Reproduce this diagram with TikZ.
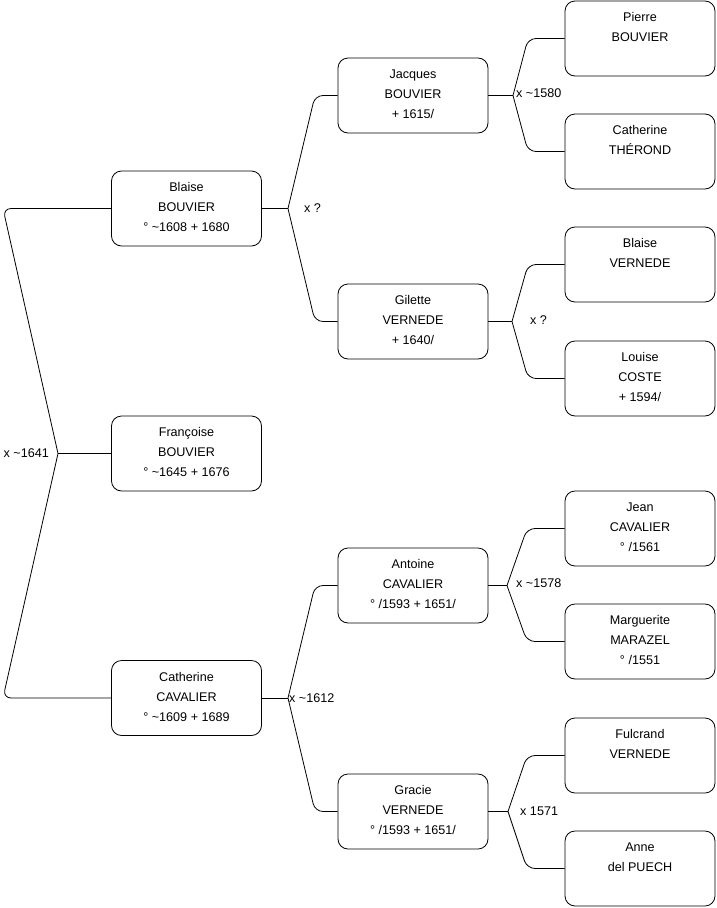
\documentclass[tikz,border=0pt]{standalone}
\usepackage{fontspec}
\setmainfont{Liberation Sans}
\usetikzlibrary{calc}
\begin{document}
\begin{tikzpicture}[x=1pt,y=-1pt,
  person/.style={draw=black, line width=0.8pt, rounded corners=10pt, minimum width=150pt, minimum height=75pt, align=center, font=\fontsize{12.6}{20}\selectfont, inner sep=0pt},
  link/.style={draw=black, line width=0.8pt},
  fork/.style={link, rounded corners=8pt},
  lbl/.style={font=\fontsize{12.6}{14}\selectfont, inner sep=0pt}]
\useasboundingbox (0,0) rectangle (716,908);
% level 1
\node[person] (blaise) at (186.5,208.5) {Blaise\\BOUVIER\\° \textasciitilde1608 + 1680\\[-17pt]\mbox{}};
\node[person] (francoise) at (186.5,453.5) {Françoise\\BOUVIER\\° \textasciitilde1645 + 1676\\[-17pt]\mbox{}};
\node[person] (catherine) at (186.5,698) {Catherine\\CAVALIER\\° \textasciitilde1609 + 1689\\[-17pt]\mbox{}};
% level 2
\node[person] (jacques) at (413,95.5) {Jacques\\BOUVIER\\+ 1615/\\[-17pt]\mbox{}};
\node[person] (gilette) at (413,321.5) {Gilette\\VERNEDE\\+ 1640/\\[-17pt]\mbox{}};
\node[person] (antoine) at (413,585.5) {Antoine\\CAVALIER\\° /1593 + 1651/\\[-17pt]\mbox{}};
\node[person] (gracie) at (413,811.5) {Gracie\\VERNEDE\\° /1593 + 1651/\\[-17pt]\mbox{}};
% level 3
\node[person] (pierre) at (640,38.5) {Pierre\\BOUVIER\\\mbox{}\\[-17pt]\mbox{}};
\node[person] (catherinet) at (640,151.5) {Catherine\\THÉROND\\\mbox{}\\[-17pt]\mbox{}};
\node[person] (blaisev) at (640,264.5) {Blaise\\VERNEDE\\\mbox{}\\[-17pt]\mbox{}};
\node[person] (louise) at (640,378.5) {Louise\\COSTE\\+ 1594/\\[-17pt]\mbox{}};
\node[person] (jean) at (640,528.5) {Jean\\CAVALIER\\° /1561\\[-17pt]\mbox{}};
\node[person] (marguerite) at (640,641.5) {Marguerite\\MARAZEL\\° /1551\\[-17pt]\mbox{}};
\node[person] (fulcrand) at (640,755.5) {Fulcrand\\VERNEDE\\\mbox{}\\[-17pt]\mbox{}};
\node[person] (anne) at (640,868.5) {Anne\\del PUECH\\\mbox{}\\[-17pt]\mbox{}};
% junctions
\coordinate (m0) at (58,453.5);
\coordinate (m1) at (288,208.5);
\coordinate (m2) at (288,698);
\coordinate (m3) at (513,95.5);
\coordinate (m4) at (512,321.5);
\coordinate (m5) at (507,585.5);
\coordinate (m6) at (508,811.5);
% level 0 fork
\draw[link] (francoise.west) -- (m0);
\draw[fork] (m0) -- ($(m0 |- blaise.west)+(-55,0)$) -- (blaise.west);
\draw[fork] (m0) -- ($(m0 |- catherine.west)+(-55,0)$) -- (catherine.west);
% level 1 forks
\draw[link] (blaise.east) -- (m1);
\draw[fork] (m1) -- ($(m1 |- jacques.west)+(27,0)$) -- (jacques.west);
\draw[fork] (m1) -- ($(m1 |- gilette.west)+(27,0)$) -- (gilette.west);
\draw[link] (catherine.east) -- (m2);
\draw[fork] (m2) -- ($(m2 |- antoine.west)+(27,0)$) -- (antoine.west);
\draw[fork] (m2) -- ($(m2 |- gracie.west)+(27,0)$) -- (gracie.west);
% level 2 forks
\draw[link] (jacques.east) -- (m3);
\draw[fork] (m3) -- ($(m3 |- pierre.west)+(15,0)$) -- (pierre.west);
\draw[fork] (m3) -- ($(m3 |- catherinet.west)+(15,0)$) -- (catherinet.west);
\draw[link] (gilette.east) -- (m4);
\draw[fork] (m4) -- ($(m4 |- blaisev.west)+(16,0)$) -- (blaisev.west);
\draw[fork] (m4) -- ($(m4 |- louise.west)+(16,0)$) -- (louise.west);
\draw[link] (antoine.east) -- (m5);
\draw[fork] (m5) -- ($(m5 |- jean.west)+(20,0)$) -- (jean.west);
\draw[fork] (m5) -- ($(m5 |- marguerite.west)+(20,0)$) -- (marguerite.west);
\draw[link] (gracie.east) -- (m6);
\draw[fork] (m6) -- ($(m6 |- fulcrand.west)+(19,0)$) -- (fulcrand.west);
\draw[fork] (m6) -- ($(m6 |- anne.west)+(19,0)$) -- (anne.west);
% marriage labels
\node[lbl, anchor=east] (l0) at (49,453) {x \textasciitilde1641};
\node[lbl, anchor=west] (l1) at (304,208) {x ?};
\node[lbl, anchor=west] (l2) at (289,698) {x \textasciitilde1612};
\node[lbl, anchor=west] (l3) at (516,93) {x \textasciitilde1580};
\node[lbl, anchor=west] (l4) at (530,320) {x ?};
\node[lbl, anchor=west] (l5) at (516,583) {x \textasciitilde1578};
\node[lbl, anchor=west] (l6) at (520,811) {x 1571};
\end{tikzpicture}
\end{document}
